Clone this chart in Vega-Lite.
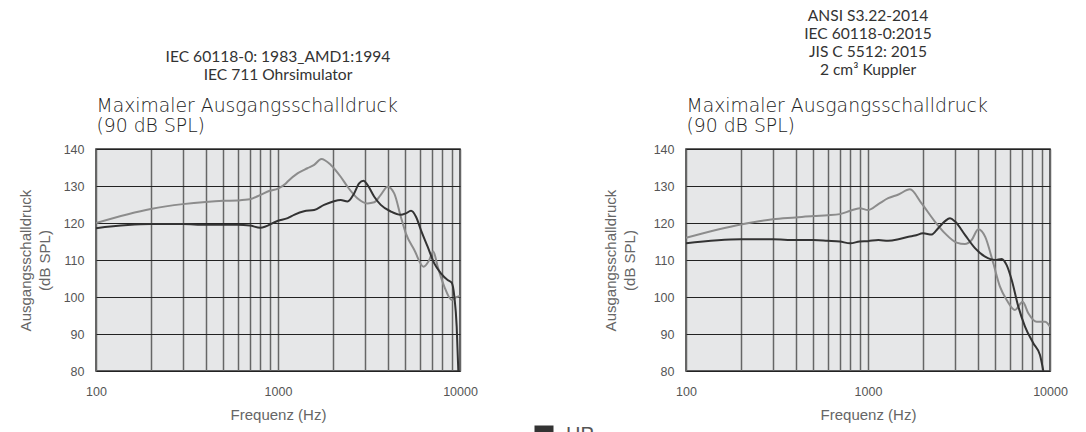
{
  "$schema": "https://vega.github.io/schema/vega-lite/v6.json",
  "padding": {"left": 17, "top": 8, "right": 5, "bottom": 0},
  "background": "#ffffff",
  "datasets": {
    "curves": [
      {"panel": "L", "series": "P", "f": 100, "spl": 120.0},
      {"panel": "L", "series": "P", "f": 200, "spl": 123.8},
      {"panel": "L", "series": "P", "f": 300, "spl": 125.1},
      {"panel": "L", "series": "P", "f": 400, "spl": 125.7},
      {"panel": "L", "series": "P", "f": 500, "spl": 126.0},
      {"panel": "L", "series": "P", "f": 600, "spl": 126.1},
      {"panel": "L", "series": "P", "f": 700, "spl": 126.4},
      {"panel": "L", "series": "P", "f": 800, "spl": 127.6},
      {"panel": "L", "series": "P", "f": 900, "spl": 128.7},
      {"panel": "L", "series": "P", "f": 1000, "spl": 129.3},
      {"panel": "L", "series": "P", "f": 1100, "spl": 130.6},
      {"panel": "L", "series": "P", "f": 1130, "spl": 131.2},
      {"panel": "L", "series": "P", "f": 1280, "spl": 133.4},
      {"panel": "L", "series": "P", "f": 1450, "spl": 134.8},
      {"panel": "L", "series": "P", "f": 1580, "spl": 135.7},
      {"panel": "L", "series": "P", "f": 1730, "spl": 137.3},
      {"panel": "L", "series": "P", "f": 1950, "spl": 135.7},
      {"panel": "L", "series": "P", "f": 2210, "spl": 132.5},
      {"panel": "L", "series": "P", "f": 2410, "spl": 129.8},
      {"panel": "L", "series": "P", "f": 2730, "spl": 126.7},
      {"panel": "L", "series": "P", "f": 3100, "spl": 125.3},
      {"panel": "L", "series": "P", "f": 3380, "spl": 125.6},
      {"panel": "L", "series": "P", "f": 3670, "spl": 127.6},
      {"panel": "L", "series": "P", "f": 4000, "spl": 129.8},
      {"panel": "L", "series": "P", "f": 4350, "spl": 128.0},
      {"panel": "L", "series": "P", "f": 4730, "spl": 121.7},
      {"panel": "L", "series": "P", "f": 5040, "spl": 117.2},
      {"panel": "L", "series": "P", "f": 5610, "spl": 112.7},
      {"panel": "L", "series": "P", "f": 6310, "spl": 108.2},
      {"panel": "L", "series": "P", "f": 6780, "spl": 110.0},
      {"panel": "L", "series": "P", "f": 7130, "spl": 112.3},
      {"panel": "L", "series": "P", "f": 7540, "spl": 108.2},
      {"panel": "L", "series": "P", "f": 8200, "spl": 102.8},
      {"panel": "L", "series": "P", "f": 9000, "spl": 99.2},
      {"panel": "L", "series": "P", "f": 9500, "spl": 99.9},
      {"panel": "L", "series": "P", "f": 10000, "spl": 100.3},

      {"panel": "L", "series": "HP", "f": 100, "spl": 118.6},
      {"panel": "L", "series": "HP", "f": 200, "spl": 119.7},
      {"panel": "L", "series": "HP", "f": 300, "spl": 119.7},
      {"panel": "L", "series": "HP", "f": 400, "spl": 119.5},
      {"panel": "L", "series": "HP", "f": 500, "spl": 119.5},
      {"panel": "L", "series": "HP", "f": 600, "spl": 119.5},
      {"panel": "L", "series": "HP", "f": 700, "spl": 119.3},
      {"panel": "L", "series": "HP", "f": 800, "spl": 118.7},
      {"panel": "L", "series": "HP", "f": 1000, "spl": 120.6},
      {"panel": "L", "series": "HP", "f": 1130, "spl": 121.3},
      {"panel": "L", "series": "HP", "f": 1225, "spl": 122.2},
      {"panel": "L", "series": "HP", "f": 1390, "spl": 123.2},
      {"panel": "L", "series": "HP", "f": 1580, "spl": 123.5},
      {"panel": "L", "series": "HP", "f": 1790, "spl": 124.9},
      {"panel": "L", "series": "HP", "f": 2030, "spl": 125.9},
      {"panel": "L", "series": "HP", "f": 2210, "spl": 126.2},
      {"panel": "L", "series": "HP", "f": 2410, "spl": 125.8},
      {"panel": "L", "series": "HP", "f": 2620, "spl": 128.0},
      {"panel": "L", "series": "HP", "f": 2790, "spl": 130.7},
      {"panel": "L", "series": "HP", "f": 2950, "spl": 131.4},
      {"panel": "L", "series": "HP", "f": 3100, "spl": 130.3},
      {"panel": "L", "series": "HP", "f": 3380, "spl": 127.1},
      {"panel": "L", "series": "HP", "f": 3670, "spl": 124.9},
      {"panel": "L", "series": "HP", "f": 4170, "spl": 123.1},
      {"panel": "L", "series": "HP", "f": 4730, "spl": 122.2},
      {"panel": "L", "series": "HP", "f": 5040, "spl": 122.6},
      {"panel": "L", "series": "HP", "f": 5380, "spl": 123.3},
      {"panel": "L", "series": "HP", "f": 5730, "spl": 121.7},
      {"panel": "L", "series": "HP", "f": 6100, "spl": 118.1},
      {"panel": "L", "series": "HP", "f": 6640, "spl": 113.6},
      {"panel": "L", "series": "HP", "f": 7220, "spl": 109.1},
      {"panel": "L", "series": "HP", "f": 7860, "spl": 106.4},
      {"panel": "L", "series": "HP", "f": 8550, "spl": 104.6},
      {"panel": "L", "series": "HP", "f": 9000, "spl": 103.9},
      {"panel": "L", "series": "HP", "f": 9310, "spl": 100.1},
      {"panel": "L", "series": "HP", "f": 9590, "spl": 92.0},
      {"panel": "L", "series": "HP", "f": 9790, "spl": 80.0},

      {"panel": "R", "series": "P", "f": 100, "spl": 116.0},
      {"panel": "R", "series": "P", "f": 200, "spl": 119.6},
      {"panel": "R", "series": "P", "f": 300, "spl": 121.0},
      {"panel": "R", "series": "P", "f": 400, "spl": 121.5},
      {"panel": "R", "series": "P", "f": 500, "spl": 121.9},
      {"panel": "R", "series": "P", "f": 600, "spl": 122.1},
      {"panel": "R", "series": "P", "f": 700, "spl": 122.4},
      {"panel": "R", "series": "P", "f": 800, "spl": 123.3},
      {"panel": "R", "series": "P", "f": 900, "spl": 124.0},
      {"panel": "R", "series": "P", "f": 1000, "spl": 123.5},
      {"panel": "R", "series": "P", "f": 1140, "spl": 125.1},
      {"panel": "R", "series": "P", "f": 1290, "spl": 126.7},
      {"panel": "R", "series": "P", "f": 1470, "spl": 127.7},
      {"panel": "R", "series": "P", "f": 1700, "spl": 129.1},
      {"panel": "R", "series": "P", "f": 1970, "spl": 125.3},
      {"panel": "R", "series": "P", "f": 2330, "spl": 120.4},
      {"panel": "R", "series": "P", "f": 2650, "spl": 117.2},
      {"panel": "R", "series": "P", "f": 3070, "spl": 114.7},
      {"panel": "R", "series": "P", "f": 3410, "spl": 114.3},
      {"panel": "R", "series": "P", "f": 3710, "spl": 115.4},
      {"panel": "R", "series": "P", "f": 4040, "spl": 118.3},
      {"panel": "R", "series": "P", "f": 4400, "spl": 116.3},
      {"panel": "R", "series": "P", "f": 4880, "spl": 109.1},
      {"panel": "R", "series": "P", "f": 5310, "spl": 102.8},
      {"panel": "R", "series": "P", "f": 5780, "spl": 99.2},
      {"panel": "R", "series": "P", "f": 6420, "spl": 96.5},
      {"panel": "R", "series": "P", "f": 7080, "spl": 98.7},
      {"panel": "R", "series": "P", "f": 7600, "spl": 95.6},
      {"panel": "R", "series": "P", "f": 8450, "spl": 93.3},
      {"panel": "R", "series": "P", "f": 9390, "spl": 93.3},
      {"panel": "R", "series": "P", "f": 10000, "spl": 92.0},

      {"panel": "R", "series": "HP", "f": 100, "spl": 114.5},
      {"panel": "R", "series": "HP", "f": 200, "spl": 115.6},
      {"panel": "R", "series": "HP", "f": 300, "spl": 115.6},
      {"panel": "R", "series": "HP", "f": 400, "spl": 115.4},
      {"panel": "R", "series": "HP", "f": 500, "spl": 115.4},
      {"panel": "R", "series": "HP", "f": 600, "spl": 115.2},
      {"panel": "R", "series": "HP", "f": 700, "spl": 115.0},
      {"panel": "R", "series": "HP", "f": 800, "spl": 114.5},
      {"panel": "R", "series": "HP", "f": 900, "spl": 115.0},
      {"panel": "R", "series": "HP", "f": 1000, "spl": 115.1},
      {"panel": "R", "series": "HP", "f": 1140, "spl": 115.4},
      {"panel": "R", "series": "HP", "f": 1290, "spl": 115.2},
      {"panel": "R", "series": "HP", "f": 1470, "spl": 115.6},
      {"panel": "R", "series": "HP", "f": 1670, "spl": 116.3},
      {"panel": "R", "series": "HP", "f": 1810, "spl": 116.6},
      {"panel": "R", "series": "HP", "f": 2010, "spl": 117.2},
      {"panel": "R", "series": "HP", "f": 2240, "spl": 116.9},
      {"panel": "R", "series": "HP", "f": 2430, "spl": 118.6},
      {"panel": "R", "series": "HP", "f": 2650, "spl": 120.5},
      {"panel": "R", "series": "HP", "f": 2820, "spl": 121.3},
      {"panel": "R", "series": "HP", "f": 3010, "spl": 120.4},
      {"panel": "R", "series": "HP", "f": 3410, "spl": 116.8},
      {"panel": "R", "series": "HP", "f": 3870, "spl": 113.2},
      {"panel": "R", "series": "HP", "f": 4400, "spl": 110.9},
      {"panel": "R", "series": "HP", "f": 4990, "spl": 110.0},
      {"panel": "R", "series": "HP", "f": 5430, "spl": 110.3},
      {"panel": "R", "series": "HP", "f": 5780, "spl": 108.6},
      {"panel": "R", "series": "HP", "f": 6160, "spl": 104.6},
      {"panel": "R", "series": "HP", "f": 6700, "spl": 97.4},
      {"panel": "R", "series": "HP", "f": 7290, "spl": 92.0},
      {"panel": "R", "series": "HP", "f": 8100, "spl": 87.5},
      {"panel": "R", "series": "HP", "f": 8810, "spl": 84.3},
      {"panel": "R", "series": "HP", "f": 9190, "spl": 80.0}
    ]
  },
  "hconcat": [
    {
      "width": 364,
      "height": 222,
      "title": {"text": ["IEC 60118-0: 1983_AMD1:1994", "IEC 711 Ohrsimulator"], "anchor": "middle", "frame": "group", "offset": 12},
      "data": {"name": "curves"},
      "transform": [{"filter": "datum.panel === 'L'"}],
      "layer": [
        {
          "mark": {"type": "line", "interpolate": "monotone", "strokeWidth": 2, "clip": true},
          "encoding": {
            "x": {"field": "f", "type": "quantitative", "scale": {"type": "log", "domain": [100, 10000]}, "title": "Frequenz (Hz)"},
            "y": {"field": "spl", "type": "quantitative", "scale": {"domain": [80, 140]}, "title": ["Ausgangsschalldruck", "(dB SPL)"]},
            "color": {"field": "series", "type": "nominal", "scale": {"domain": ["HP", "P"], "range": ["#333333", "#8c8c8c"]},
                      "legend": {"symbolType": "square", "symbolFillColor": "#333333", "symbolStrokeWidth": 0, "encode": {"symbols": {"update": {"fill": {"scale": "color", "field": "value"}, "fillOpacity": {"value": 1}, "strokeWidth": {"value": 0}}}}}}
          }
        },
        {
          "mark": {"type": "line", "opacity": 0, "clip": true},
          "encoding": {
            "x": {"field": "f", "type": "quantitative", "scale": {"type": "log", "domain": [100, 10000]},
                  "axis": {"orient": "top", "labels": false, "grid": false, "ticks": false, "domain": false, "title": ["Maximaler Ausgangsschalldruck", "(90 dB SPL)"], "titleFont": "DejaVu Sans", "titleFontSize": 18.8, "titleFontWeight": 200, "titleColor": "#222222", "titleAnchor": "start", "titleAlign": "left", "titlePadding": 14, "titleLineHeight": 20}},
            "y": {"field": "spl", "type": "quantitative"},
            "detail": {"field": "series"}
          }
        }
      ],
      "resolve": {"axis": {"x": "independent"}}
    },
    {
      "width": 364,
      "height": 222,
      "title": {"text": ["ANSI S3.22-2014", "IEC 60118-0:2015", "JIS C 5512: 2015", "2 cm³ Kuppler"], "anchor": "middle", "frame": "group"},
      "data": {"name": "curves"},
      "transform": [{"filter": "datum.panel === 'R'"}],
      "layer": [
        {
          "mark": {"type": "line", "interpolate": "monotone", "strokeWidth": 2, "clip": true},
          "encoding": {
            "x": {"field": "f", "type": "quantitative", "scale": {"type": "log", "domain": [100, 10000]}, "title": "Frequenz (Hz)"},
            "y": {"field": "spl", "type": "quantitative", "scale": {"domain": [80, 140]}, "title": ["Ausgangsschalldruck", "(dB SPL)"], "axis": {"titlePadding": 16}},
            "color": {"field": "series", "type": "nominal", "scale": {"domain": ["HP", "P"], "range": ["#333333", "#8c8c8c"]},
                      "legend": {"symbolType": "square", "symbolFillColor": "#333333", "symbolStrokeWidth": 0, "encode": {"symbols": {"update": {"fill": {"scale": "color", "field": "value"}, "fillOpacity": {"value": 1}, "strokeWidth": {"value": 0}}}}}}
          }
        },
        {
          "mark": {"type": "line", "opacity": 0, "clip": true},
          "encoding": {
            "x": {"field": "f", "type": "quantitative", "scale": {"type": "log", "domain": [100, 10000]},
                  "axis": {"orient": "top", "labels": false, "grid": false, "ticks": false, "domain": false, "title": ["Maximaler Ausgangsschalldruck", "(90 dB SPL)"], "titleFont": "DejaVu Sans", "titleFontSize": 18.8, "titleFontWeight": 200, "titleColor": "#222222", "titleAnchor": "start", "titleAlign": "left", "titlePadding": 14, "titleLineHeight": 20}},
            "y": {"field": "spl", "type": "quantitative"},
            "detail": {"field": "series"}
          }
        }
      ],
      "resolve": {"axis": {"x": "independent"}}
    }
  ],
  "spacing": 123,
  "config": {
    "font": "Liberation Sans",
    "view": {"fill": "#e6e7e8", "stroke": "#333333", "strokeWidth": 1.5},
    "title": {"font": "Lato", "fontSize": 15.6, "fontWeight": 400, "color": "#333333", "lineHeight": 18, "offset": 17},
    "axis": {"domain": false, "ticks": false, "labelFont": "Liberation Sans", "labelFontSize": 12.5, "labelColor": "#555555", "titleFont": "Liberation Sans", "titleFontSize": 15, "titleFontWeight": "normal", "titleColor": "#666666", "labelFlush": false, "labelOverlap": false},
    "axisX": {"values": [100, 200, 300, 400, 500, 600, 700, 800, 900, 1000, 2000, 3000, 4000, 5000, 6000, 7000, 8000, 9000, 10000], "labelExpr": "(datum.value == 100 || datum.value == 1000 || datum.value == 10000) ? datum.value : ''", "gridColor": "#666666", "gridWidth": 1.5, "gridOpacity": 1, "labelPadding": 14, "titlePadding": 10},
    "axisY": {"values": [80, 90, 100, 110, 120, 130, 140], "gridColor": "#222222", "gridWidth": 1.2, "gridOpacity": 1, "labelPadding": 12, "titlePadding": 11, "titleLineHeight": 19},
    "legend": {"orient": "none", "legendX": 438, "legendY": 276, "direction": "vertical", "title": null, "symbolType": "square", "symbolSize": 361, "symbolStrokeWidth": 0, "labelFont": "Liberation Sans", "labelFontSize": 20, "labelColor": "#555555", "labelOffset": 12}
  }
}
